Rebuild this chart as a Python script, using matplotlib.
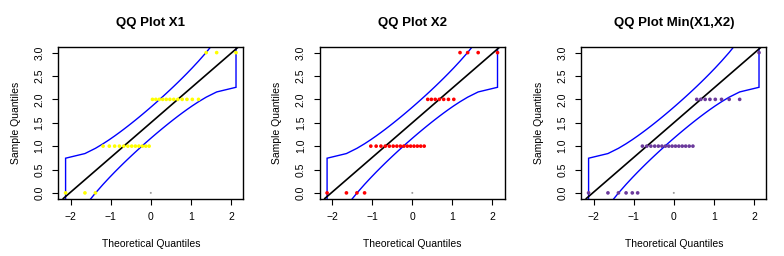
import numpy as np
import matplotlib
matplotlib.use("Agg")
import matplotlib.pyplot as plt
from statistics import NormalDist

plt.rcParams['font.family'] = ['Liberation Sans', 'DejaVu Sans']

# ---- data (sample values by level and their counts, n = 30 each) ----
sample_levels = [0, 1, 2, 3]
x1_counts = [3, 12, 12, 3]
x2_counts = [4, 15, 7, 4]
min_counts = [6, 15, 8, 1]

titles = ["QQ Plot X1", "QQ Plot X2", "QQ Plot Min(X1,X2)"]
point_colors = ["#FFFF00", "#FF0000", "#6B3A9C"]
series_counts = [x1_counts, x2_counts, min_counts]

x_ticks = [-2, -1, 0, 1, 2]
y_ticks = [0.0, 0.5, 1.0, 1.5, 2.0, 2.5, 3.0]
y_tick_labels = ["0.0", "0.5", "1.0", "1.5", "2.0", "2.5", "3.0"]
grey_mark = (0.0, 0.0)

nd = NormalDist()


def qq_stats(values):
    ordv = np.sort(np.asarray(values, dtype=float))
    n = len(ordv)
    P = (np.arange(1, n + 1) - 0.5) / n
    z = np.array([nd.inv_cdf(p) for p in P])
    qx = np.quantile(ordv, [0.25, 0.75])
    qz = np.array([nd.inv_cdf(0.25), nd.inv_cdf(0.75)])
    b = (qx[1] - qx[0]) / (qz[1] - qz[0])
    a = qx[0] - b * qz[0]
    dens = np.array([nd.pdf(v) for v in z])
    se = (b / dens) * np.sqrt(P * (1 - P) / n)
    zz = nd.inv_cdf(0.975)
    fit = a + b * z
    return ordv, z, a, b, fit + zz * se, fit - zz * se


fig = plt.figure(figsize=(7.84, 2.56), dpi=100)
W, H = 784.0, 256.0
for k in range(3):
    left_px = 58.3 + 261.5 * k
    ax = fig.add_axes([left_px / W, (256 - 198.5) / H, 185.0 / W, 151.5 / H])
    vals = np.repeat(sample_levels, series_counts[k])
    ordv, z, a, b, up, lo = qq_stats(vals)

    poly_x = np.concatenate([z, z[::-1]])
    poly_y = np.concatenate([up, lo[::-1]])
    ax.fill(poly_x, poly_y, facecolor="none", edgecolor="#0000FF", lw=1.0, zorder=2)
    ax.axline((0, a), slope=b, color="black", lw=1.2, zorder=3)
    ax.scatter(z, ordv, s=7, color=point_colors[k], edgecolors="none", zorder=4)
    ax.scatter([grey_mark[0]], [grey_mark[1]], s=2, color="#999999", edgecolors="none", zorder=4)

    ax.set_xlim(-2.31, 2.31)
    ax.set_ylim(-0.12, 3.12)
    ax.set_xticks(x_ticks)
    ax.set_xticklabels(["\u22122", "\u22121", "0", "1", "2"])
    ax.set_yticks(y_ticks)
    ax.set_yticklabels(y_tick_labels, rotation=90, va="center")
    ax.tick_params(axis="both", length=4, width=0.8, labelsize=7.5, pad=6)
    for s in ax.spines.values():
        s.set_linewidth(1.0)
    ax.set_title(titles[k], fontsize=9.5, fontweight="bold", pad=15)
    ax.set_xlabel("Theoretical Quantiles", fontsize=7.5, labelpad=12)
    ax.set_ylabel("Sample Quantiles", fontsize=7.5, labelpad=10)

fig.savefig("out.png", dpi=100)
